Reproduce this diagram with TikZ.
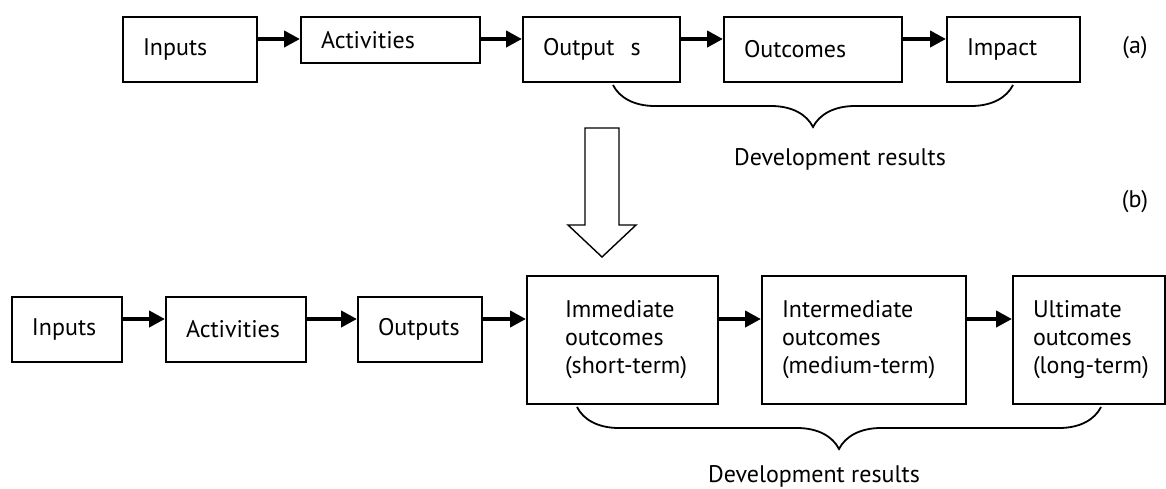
\documentclass[tikz,border=0pt]{standalone}
\usepackage{fontspec}
\setmainfont{PT Sans}
\usetikzlibrary{arrows.meta,decorations.pathreplacing}

\tikzset{
  stage/.style={draw, line width=1pt, inner xsep=10pt, inner ysep=0pt, align=left},
  flow/.style={line width=2pt, -{Triangle[length=8pt,width=8pt]}},
  results/.style={decorate, decoration={brace, amplitude=21pt}, line width=0.9pt},
}

\begin{document}
\begin{tikzpicture}[x=0.5pt, y=-0.5pt, font=\fontsize{12}{14}\selectfont]
\useasboundingbox (0,0) rectangle (1166,488);
\coordinate (rowa) at (0,39);
\coordinate (rowb) at (0,319);

% (a) results chain
\node[stage, text width=47pt, minimum height=32.5pt] (in1) at (190,49.5) {Inputs};
\node[stage, text width=69.5pt, minimum height=23pt] (act1) at (390.5,40) {Activities};
\node[stage, text width=58.5pt, minimum height=32.5pt] (out1) at (601.5,49.5) {Output\ \ s};
\node[stage, text width=69pt, minimum height=32.5pt] (oc1) at (813,49.5) {Outcomes};
\node[stage, text width=46.5pt, minimum height=32.5pt] (imp1) at (1013.5,49.5) {Impact};
\node (lba) at (1135,48) {(a)};

\foreach \a/\b in {in1/act1, act1/out1, out1/oc1, oc1/imp1}
  \draw[flow] (\a.east |- rowa) -- (\b.west |- rowa);

\draw[results] (1013,85) -- (613,85);
\node (res1) at (840,159) {Development results};

% hollow arrow between the two chains
\draw[line width=0.7pt] (585,128) -- (619,128) -- (619,225) -- (636,225)
  -- (602,257) -- (568,225) -- (585,225) -- cycle;

% (b) refined chain
\node (lbb) at (1135,202) {(b)};
\node[stage, text width=35pt, minimum height=32.5pt] (in2) at (67,329.5) {Inputs};
\node[stage, text width=50pt, minimum height=32.5pt] (act2) at (236,329.5) {Activities};
\node[stage, text width=42pt, minimum height=32.5pt] (out2) at (420,329.5) {Outputs};
\node[stage, inner xsep=19pt, text width=57.5pt, minimum height=64pt] (imm) at (622.5,340)
  {Immediate\\outcomes\\\mbox{(short-term)}};
\node[stage, text width=82pt, minimum height=64pt] (mid) at (864,340)
  {Intermediate\\outcomes\\\mbox{(medium-term)}};
\node[stage, text width=56pt, minimum height=64pt] (ult) at (1089,340)
  {Ultimate\\outcomes\\\mbox{(long-term)}};

\foreach \a/\b in {in2/act2, act2/out2, out2/imm, imm/mid, mid/ult}
  \draw[flow] (\a.east |- rowb) -- (\b.west |- rowb);

\draw[results] (1101,407) -- (577,407);
\node (res2) at (814,476) {Development results};
\end{tikzpicture}
\end{document}
